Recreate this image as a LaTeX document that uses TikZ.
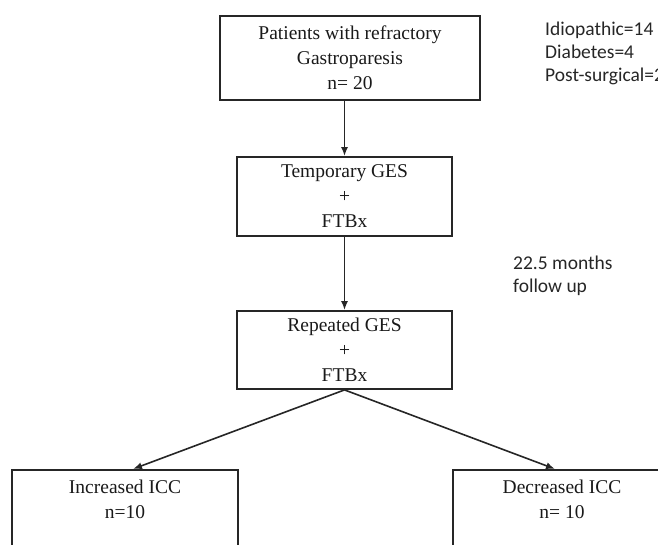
\documentclass[tikz,border=0pt]{standalone}
\usepackage{fontspec}
\setmainfont{Liberation Serif}
\newfontfamily\calfont{Carlito}
\usetikzlibrary{arrows.meta}
\begin{document}
\begin{tikzpicture}[x=1pt,y=-1pt,
  box/.style={draw=black!85, line width=1.8pt, align=center, inner sep=0pt, text=black!90, font=\fontsize{19.5}{25}\selectfont},
  side/.style={anchor=north west, align=left, inner sep=0pt, font=\calfont\fontsize{19.5}{23}\selectfont, text=black!85},
  arr/.style={draw=black!85, line width=1.6pt, -{Latex[length=9pt,width=7pt]}}]
\useasboundingbox (0,0) rectangle (658,545);
\clip (0,0) rectangle (658,545);
\node[box, minimum width=260, minimum height=84] (top) at (350,58) {Patients with refractory\\Gastroparesis\\n= 20};
\node[box, minimum width=215, minimum height=79] (temp) at (344.5,196.5) {Temporary GES\\+\\FTBx};
\node[box, minimum width=215, minimum height=78] (rep) at (344.5,350) {Repeated GES\\+\\FTBx};
\node[box, minimum width=226, minimum height=120, anchor=north] (inc) at (125,469) {};
\node[box, draw=none] (inct) at (125,499) {Increased ICC\\n=10};
\node[box, minimum width=220, minimum height=120, anchor=north west] (dec) at (452,469) {};
\node[box, draw=none] (dect) at (562,499) {Decreased ICC\\n= 10};
\node[side] (etio) at (545,22) {Idiopathic=14\\Diabetes=4\\Post-surgical=2};
\node[side] (fu) at (513,256) {22.5 months\\follow up};
\coordinate (inctip) at (133,469);
\coordinate (dectip) at (555,469);
\draw[arr] (top.south -| temp.north) -- (temp.north);
\draw[arr] (temp.south) -- (rep.north);
\draw[arr] (rep.south) -- (inctip);
\draw[arr] (rep.south) -- (dectip);
\end{tikzpicture}
\end{document}
